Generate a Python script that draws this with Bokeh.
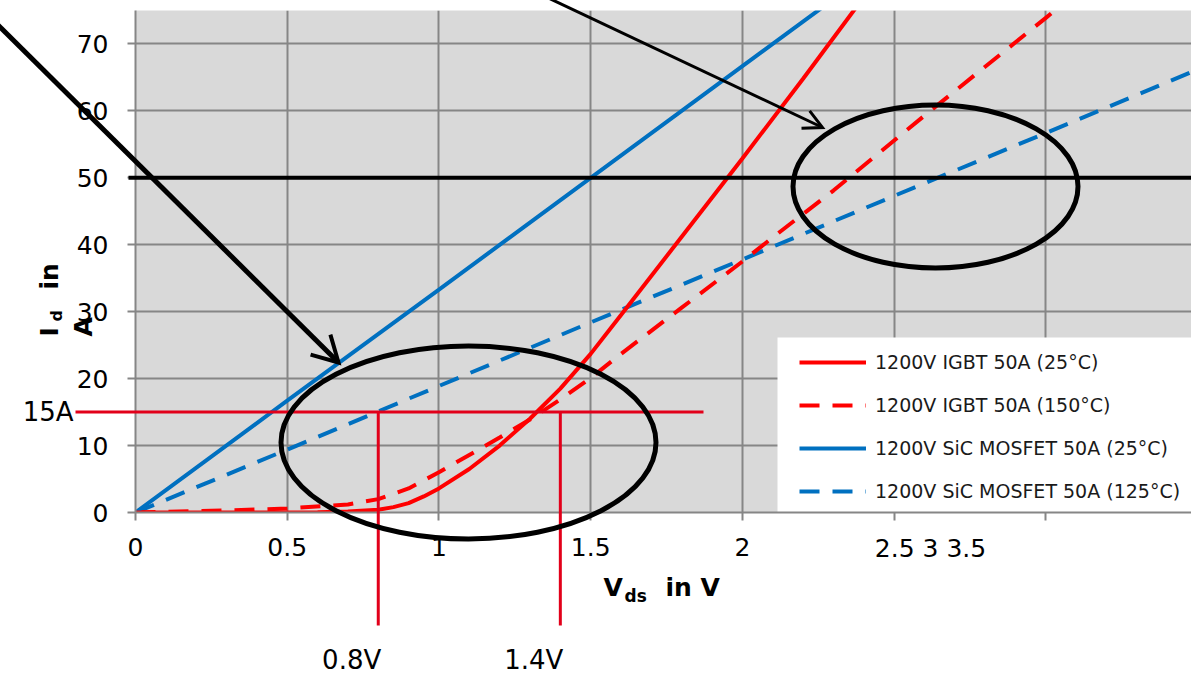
import math

from bokeh.plotting import figure
from bokeh.models import Range1d, FixedTicker, Legend, LegendItem
from bokeh.core.properties import value
from bokeh.embed import file_html
from bokeh.resources import INLINE

# ---- Output characteristics I_d = f(V_ds) -------------------------------
igbt25_v = [0, 0.3, 0.6, 0.7, 0.8, 0.85, 0.9, 0.95, 1.0, 1.1, 1.2, 1.3, 1.4, 1.5, 1.6, 1.8, 2.0, 2.2, 2.4]
igbt25_i = [0, 0, 0.05, 0.15, 0.4, 0.8, 1.4, 2.4, 3.6, 6.5, 10.0, 14.0, 18.5, 23.7, 29.5, 41.2, 52.9, 64.8, 77.0]

igbt150_v = [0, 0.3, 0.5, 0.7, 0.8, 0.9, 1.0, 1.1, 1.2, 1.3, 1.4, 1.5, 1.6, 1.8, 2.0, 2.1, 2.3, 2.6, 3.0, 3.1]
igbt150_i = [0, 0.3, 0.6, 1.2, 2.0, 3.6, 6.0, 8.6, 11.2, 13.9, 16.9, 20.1, 23.7, 30.6, 37.5, 41.1, 48.1, 59.3, 73.9, 77.6]

sic25_v = [0, 0.5, 1.0, 1.5, 2.0, 2.4]
sic25_i = [0, 16.7, 33.3, 50.0, 66.7, 80.0]

sic125_v = [0, 0.5, 1.0, 1.5, 2.0, 2.5, 3.0, 3.5]
sic125_i = [0, 9.4, 18.9, 28.4, 37.8, 47.3, 56.7, 66.2]

series_names = [
    "1200V IGBT 50A (25°C)",
    "1200V IGBT 50A (150°C)",
    "1200V SiC MOSFET 50A (25°C)",
    "1200V SiC MOSFET 50A (125°C)",
]

x_ticks = [0, 0.5, 1, 1.5, 2, 2.5, 3]
x_tick_labels = ["0", "0.5", "1", "1.5", "2", "", ""]
x_tail_label = "2.5 3 3.5"
y_ticks = [0, 10, 20, 30, 40, 50, 60, 70]

rated_current = 50            # A, horizontal reference line
marker_current = 15           # A, operating point
marker_voltages = [0.8, 1.4]  # V, forward drop at 15 A

# ---- canvas geometry ----------------------------------------------------
W, H = 1191, 675
LEFT, TOP, BOTTOM = 135, 10, 163
X_MAX, Y_MAX = 3.48, 75
FONT = "DejaVu Sans"
FRAME_W, FRAME_H = W - LEFT, H - BOTTOM - TOP


def vx(px):
    """canvas x pixel -> volts"""
    return (px - LEFT) / FRAME_W * X_MAX


def iy(py):
    """canvas y pixel -> amperes"""
    return (H - BOTTOM - py) / FRAME_H * Y_MAX


def px_of(v):
    return LEFT + v / X_MAX * FRAME_W


p = figure(width=W, height=H, output_backend="svg", toolbar_location=None,
           x_range=Range1d(0, X_MAX), y_range=Range1d(0, Y_MAX),
           min_border_left=LEFT, min_border_right=0, min_border_top=TOP,
           min_border_bottom=BOTTOM)
p.background_fill_color = "#d9d9d9"
p.border_fill_color = "white"
p.outline_line_color = None

GRID = "#868686"
p.grid.grid_line_color = GRID
p.grid.grid_line_width = 2
p.xaxis.ticker = FixedTicker(ticks=x_ticks)
p.yaxis.ticker = FixedTicker(ticks=y_ticks)
p.xaxis.major_label_overrides = {t: s for t, s in zip(x_ticks, x_tick_labels)}
for ax in (p.xaxis[0], p.yaxis[0]):
    ax.axis_line_color = GRID
    ax.axis_line_width = 2
    ax.major_tick_line_color = GRID
    ax.major_tick_line_width = 2
    ax.major_tick_out = 8
    ax.major_tick_in = 0
    ax.minor_tick_line_color = None
    ax.major_label_text_font = FONT
    ax.major_label_text_font_size = "25px"
    ax.major_label_text_color = "#000000"
p.xaxis[0].major_label_standoff = 17
p.yaxis[0].major_label_standoff = 19

RED, BLUE = "#ff0000", "#0070c0"
DASH = "20 13"

# white panel behind the legend entries
p.quad(left=[vx(777)], right=[X_MAX], bottom=[0], top=[iy(337)],
       fill_color="white", line_color=None)

r_sic125 = p.line(sic125_v, sic125_i, line_color=BLUE, line_width=4, line_dash=DASH)
r_igbt150 = p.line(igbt150_v, igbt150_i, line_color=RED, line_width=4, line_dash=DASH)
r_sic25 = p.line(sic25_v, sic25_i, line_color=BLUE, line_width=4)
r_igbt25 = p.line(igbt25_v, igbt25_i, line_color=RED, line_width=4)

legend = Legend(items=[LegendItem(label=n, renderers=[r]) for n, r in
                       zip(series_names, [r_igbt25, r_igbt150, r_sic25, r_sic125])],
                location=(799 - LEFT, 10), margin=0, padding=0, spacing=21,
                glyph_width=67, glyph_height=20, label_height=20, label_standoff=9,
                border_line_color=None, background_fill_color="white",
                background_fill_alpha=1.0, label_text_font=FONT,
                label_text_font_size="19px", label_text_color="#1a1a1a")
p.add_layout(legend)


# ---- drawn annotations (kept on the overlay level so they may leave the frame)
def seg(x0, y0, x1, y1, color, width):
    p.segment(x0=[x0], y0=[y0], x1=[x1], y1=[y1], line_color=color,
              line_width=width, level="overlay")


def text(x, y, s, size, align="left", bold=False, angle=0.0):
    p.text(x=[x], y=[y], text=[s], angle=angle, text_align=align,
           text_baseline="middle", text_font=value(FONT), text_font_size=size,
           text_font_style="bold" if bold else "normal", text_color="#000000",
           level="overlay")


def arrow(tail, tip, width, head_len, head_angle, head_width):
    """straight pointer in canvas pixels with an open V head"""
    seg(vx(tail[0]), iy(tail[1]), vx(tip[0]), iy(tip[1]), "black", width)
    ux, uy = tail[0] - tip[0], tail[1] - tip[1]
    n = math.hypot(ux, uy)
    ux, uy = ux / n, uy / n
    arms = []
    for s in (1, -1):
        a = math.radians(head_angle) * s
        ax_ = ux * math.cos(a) - uy * math.sin(a)
        ay_ = ux * math.sin(a) + uy * math.cos(a)
        arms.append((tip[0] + head_len * ax_, tip[1] + head_len * ay_))
    pts = [arms[0], tip, arms[1]]
    p.line(x=[vx(q[0]) for q in pts], y=[iy(q[1]) for q in pts], line_color="black",
           line_width=head_width, line_join="miter", level="overlay")


# rated current reference line
seg(vx(128), rated_current, X_MAX, rated_current, "black", 4)

# 15 A operating point with the voltage drops of both devices
MARK = "#e2001a"
seg(vx(75), marker_current, vx(703), marker_current, MARK, 3)
for v in marker_voltages:
    seg(v, marker_current, v, iy(625), MARK, 3)
    text(vx(px_of(v) + 3), iy(659), f"{v}V", "26px", align="right")
text(vx(73), marker_current, f"{marker_current}A", "26px", align="right")

# highlight ellipses
p.ellipse(x=[vx(468), vx(935)], y=[iy(442), iy(186)],
          width=[375 / FRAME_W * X_MAX, 285 / FRAME_W * X_MAX],
          height=[193 / FRAME_H * Y_MAX, 163 / FRAME_H * Y_MAX],
          fill_color=None, line_color="black", line_width=5, level="overlay")

# pointer arrows
arrow((-10, 17), (338, 362), 5, 29, 29, 4)
arrow((532, -10), (822, 127), 3, 21, 27, 3)

# squeezed tail of the voltage axis labels
text(vx(930), iy(548), x_tail_label, "25px", align="center")

# axis titles
text(vx(603), iy(587), "V", "25px", bold=True)
text(vx(624), iy(595), "ds", "17px", bold=True)
text(vx(665), iy(587), "in V", "25px", bold=True)

UP = math.pi / 2
text(vx(49), iy(336), "I", "25px", bold=True, angle=UP)
text(vx(56), iy(321), "d", "16px", bold=True, angle=UP)
text(vx(49), iy(289), "in", "25px", bold=True, angle=UP)
text(vx(83), iy(336), "A", "25px", bold=True, angle=UP)

open("out.html", "w").write(file_html(p, INLINE))
